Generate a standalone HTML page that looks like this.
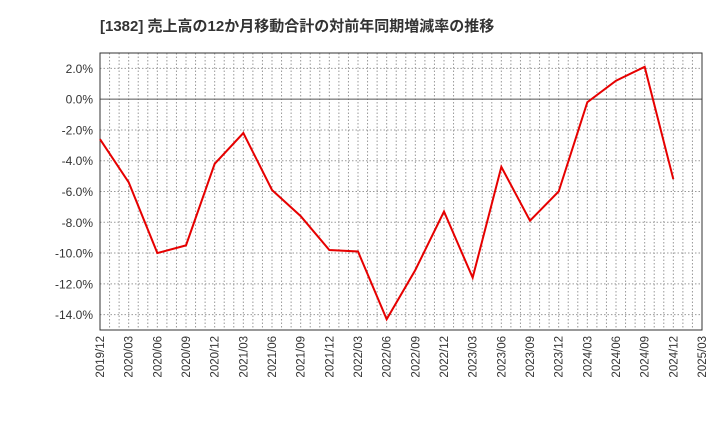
<!DOCTYPE html>
<html><head><meta charset="utf-8"><style>
body{margin:0;background:#fff;font-family:"Liberation Sans","Noto Sans CJK JP",sans-serif;}
</style></head><body>
<svg id="chart" width="720" height="440" xmlns="http://www.w3.org/2000/svg">
<text x="100" y="31" font-size="15" font-weight="bold" fill="#333" font-family="Liberation Sans,Noto Sans CJK JP,sans-serif">[1382]  売上高の12か月移動合計の対前年同期増減率の推移</text>
<g id="grid"></g><g id="axes"></g><g id="series"></g>
</svg>
<script>
const categories=["2019/12","2020/03","2020/06","2020/09","2020/12","2021/03","2021/06","2021/09","2021/12","2022/03","2022/06","2022/09","2022/12","2023/03","2023/06","2023/09","2023/12","2024/03","2024/06","2024/09","2024/12"];
const xTickLabels=["2019/12","2020/03","2020/06","2020/09","2020/12","2021/03","2021/06","2021/09","2021/12","2022/03","2022/06","2022/09","2022/12","2023/03","2023/06","2023/09","2023/12","2024/03","2024/06","2024/09","2024/12","2025/03"];
const values=[-2.6,-5.4,-10.0,-9.5,-4.2,-2.2,-5.9,-7.6,-9.8,-9.9,-14.3,-11.1,-7.3,-11.6,-4.4,-7.9,-6.0,-0.2,1.2,2.1,-5.2];
const yTicks=[2,0,-2,-4,-6,-8,-10,-12,-14];
const L=100,R=702,T=53,B=330,yMax=3,yMin=-15;
const NS="http://www.w3.org/2000/svg";
function x(i){return L+i*(R-L)/(xTickLabels.length-1);}
function y(v){return T+(yMax-v)*(B-T)/(yMax-yMin);}
function mk(tag,attrs,parent){const e=document.createElementNS(NS,tag);for(const k in attrs)e.setAttribute(k,attrs[k]);document.getElementById(parent).appendChild(e);return e;}
const nMonths=(xTickLabels.length-1)*3;
for(let m=1;m<nMonths;m++){const xx=L+m*(R-L)/nMonths;
const g=mk("line",{x1:xx,x2:xx,y1:T,y2:B,stroke:"#999","stroke-dasharray":"1.5,2","stroke-width":1},"grid");

}
yTicks.forEach(v=>{const zero=v===0;
const g=mk("line",{x1:L,x2:R,y1:y(v),y2:y(v),stroke:zero?"#555":"#999","stroke-dasharray":zero?"":"1.5,2","stroke-width":1},"grid");


const t=mk("text",{x:L-7,y:y(v)+4.5,"text-anchor":"end","font-size":12,fill:"#333"},"axes");
t.textContent=v.toFixed(1)+"%";

});
const f=mk("rect",{x:L,y:T,width:R-L,height:B-T,fill:"none",stroke:"#333","stroke-width":1},"axes");


xTickLabels.forEach((lab,i)=>{const t=mk("text",{transform:`translate(${x(i)+4},${B+6}) rotate(-90)`,"text-anchor":"end","font-size":11.5,fill:"#333"},"axes");
t.textContent=lab;

});
const pts=values.map((v,i)=>x(i)+","+y(v)).join(" ");
const p=mk("polyline",{points:pts,fill:"none",stroke:"#e60000","stroke-width":2,"stroke-linejoin":"miter"},"series");


</script>
</body></html>
